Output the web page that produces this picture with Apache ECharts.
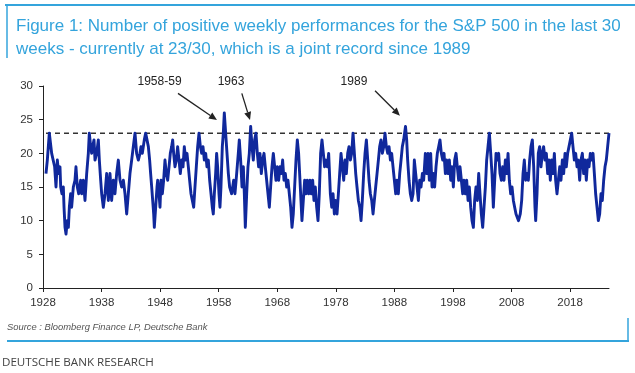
<!DOCTYPE html>
<html>
<head>
<meta charset="utf-8">
<script src="https://cdn.jsdelivr.net/npm/echarts@6/dist/echarts.min.js"></script>
<style>
  html, body { margin: 0; padding: 0; background: #fff; }
  #chart { width: 635px; height: 373px; }
</style>
</head>
<body>
<div id="chart"></div>
<script>
// ---------- DATA: [year, number of positive weeks in last 30] ----------
var weekly1928to1944 = [
  [1928.51,17],[1928.74,19],[1929.08,23],[1929.31,23],[1929.48,20],[1929.76,20],[1929.99,18],[1930.22,15],
  [1930.45,19],[1930.67,17],[1930.90,18],[1931.02,15],[1931.24,14],[1931.47,15],[1931.59,12],[1931.76,9],
  [1931.93,8],[1932.15,10],[1932.33,9],[1932.50,12],[1932.72,14],[1932.89,12],[1933.18,15],[1933.46,16],
  [1933.63,18],[1933.86,15],[1934.09,14],[1934.32,14],[1934.43,16],[1934.60,14],[1934.89,16],[1935.17,13],
  [1935.46,17],[1935.74,20],[1935.91,23],[1936.14,21],[1936.31,20],[1936.48,21],[1936.71,22],[1936.88,19],
  [1937.16,20],[1937.45,22],[1937.62,19],[1937.85,16],[1938.02,14],[1938.30,12],[1938.59,14],[1938.87,17],
  [1939.16,13],[1939.44,17],[1939.72,13],[1940.01,16],[1940.29,14],[1940.58,17],[1940.86,19],[1941.15,16],
  [1941.43,15],[1941.72,16],[1942.00,14],[1942.29,11],[1942.57,14],[1942.85,17],[1943.14,19],[1943.42,21],
  [1943.71,23],[1943.99,20],[1944.28,19],[1944.56,20]
];
var weekly1944to1960 = [
  [1944.73,21],[1944.96,20],[1945.30,22],[1945.53,23],[1945.76,22],[1945.99,21],[1946.21,19],[1946.38,17],
  [1946.56,15],[1946.73,13],[1946.90,11],[1947.01,9],[1947.24,12],[1947.47,15],[1947.58,16],[1947.81,14],
  [1947.98,12],[1948.15,16],[1948.38,14],[1948.60,16],[1948.83,19],[1949.06,17],[1949.29,16],[1949.52,18],
  [1949.74,20],[1949.97,21],[1950.14,22],[1950.31,20],[1950.54,18],[1950.77,19],[1950.99,21],[1951.22,19],
  [1951.45,17],[1951.68,19],[1951.91,18],[1952.13,21],[1952.36,19],[1952.59,20],[1952.82,18],[1953.04,16],
  [1953.27,14],[1953.50,13],[1953.73,12],[1953.95,15],[1954.18,18],[1954.41,21],[1954.64,23],[1954.87,21],
  [1955.09,20],[1955.32,21],[1955.55,19],[1955.78,20],[1956.00,18],[1956.23,19],[1956.46,16],[1956.69,14],
  [1956.91,12],[1957.08,11],[1957.26,14],[1957.48,17],[1957.65,20],[1957.82,18],[1958.05,14],[1958.22,12],
  [1958.39,15],[1958.62,21],[1958.79,23],[1958.96,26],[1959.19,23],[1959.42,20],[1959.65,17],[1959.87,15],
  [1960.21,14],[1960.56,16]
];
var weekly1960to1976 = [
  [1960.78,14],[1961.07,17],[1961.35,20],[1961.52,22],[1961.75,19],[1961.98,15],[1962.21,18],[1962.38,14],
  [1962.55,9],[1962.78,14],[1963.00,18],[1963.23,20],[1963.46,24],[1963.69,21],[1963.91,19],[1964.14,22],
  [1964.37,23],[1964.60,20],[1964.82,18],[1965.05,20],[1965.28,17],[1965.51,19],[1965.74,20],[1965.96,18],
  [1966.19,16],[1966.42,14],[1966.65,12],[1966.87,15],[1967.10,18],[1967.33,20],[1967.56,18],[1967.78,16],
  [1968.01,18],[1968.24,16],[1968.47,18],[1968.70,17],[1968.92,19],[1969.15,16],[1969.38,17],[1969.61,15],
  [1969.83,16],[1970.06,14],[1970.29,12],[1970.52,9],[1970.74,11],[1970.97,15],[1971.20,19],[1971.43,22],
  [1971.65,20],[1971.88,16],[1972.05,13],[1972.22,10],[1972.45,13],[1972.68,16],[1972.91,14],[1973.13,16],
  [1973.36,14],[1973.59,16],[1973.82,14],[1974.05,16],[1974.27,13],[1974.50,15],[1974.73,12],[1974.96,10],
  [1975.18,14],[1975.41,20],[1975.64,22],[1975.87,20],[1976.09,18],[1976.32,19],[1976.55,18],[1976.78,20]
];
var weekly1977to1993 = [
  [1977.07,14],[1977.30,12],[1977.53,14],[1977.75,11],[1977.98,13],[1978.21,11],[1978.44,14],[1978.66,17],
  [1978.89,20],[1979.12,18],[1979.35,16],[1979.57,19],[1979.80,17],[1980.03,20],[1980.26,21],[1980.49,19],
  [1980.71,20],[1980.94,23],[1981.17,20],[1981.40,17],[1981.62,15],[1981.85,13],[1982.08,12],[1982.31,10],
  [1982.53,13],[1982.76,17],[1982.99,20],[1983.22,22],[1983.45,19],[1983.67,16],[1983.90,14],[1984.13,13],
  [1984.36,11],[1984.58,13],[1984.81,15],[1985.04,17],[1985.27,19],[1985.49,21],[1985.72,22],[1985.95,20],
  [1986.18,21],[1986.40,23],[1986.63,21],[1986.86,20],[1987.09,21],[1987.32,19],[1987.54,20],[1987.77,18],
  [1988.00,16],[1988.23,14],[1988.45,16],[1988.68,14],[1988.91,17],[1989.14,19],[1989.36,21],[1989.59,22],
  [1989.90,24],[1990.10,22],[1990.27,19],[1990.50,16],[1990.73,14],[1990.96,13],[1991.19,14],[1991.41,19],
  [1991.64,17],[1991.87,15],[1992.10,13],[1992.32,16],[1992.55,15],[1992.78,17],[1993.00,16]
];
var weekly1993to2009 = [
  [1993.29,20],[1993.52,17],[1993.75,20],[1993.97,16],[1994.20,20],[1994.43,15],[1994.66,17],[1994.88,15],
  [1995.11,18],[1995.34,20],[1995.57,21],[1995.79,22],[1996.02,20],[1996.25,19],[1996.48,20],[1996.71,17],
  [1996.93,19],[1997.16,17],[1997.39,19],[1997.62,16],[1997.84,18],[1998.07,15],[1998.30,19],[1998.53,20],
  [1998.75,18],[1998.98,16],[1999.21,18],[1999.44,16],[1999.67,14],[1999.89,16],[2000.12,14],[2000.35,16],
  [2000.58,13],[2000.80,15],[2001.03,12],[2001.26,10],[2001.49,9],[2001.71,13],[2001.94,15],[2002.17,13],
  [2002.40,17],[2002.62,14],[2002.85,11],[2003.08,9],[2003.31,12],[2003.54,15],[2003.76,19],[2003.99,21],
  [2004.22,23],[2004.45,20],[2004.67,17],[2004.90,12],[2005.13,16],[2005.36,20],[2005.58,19],[2005.81,20],
  [2006.04,17],[2006.27,16],[2006.49,18],[2006.72,16],[2006.95,19],[2007.18,17],[2007.41,20],[2007.63,16],
  [2007.86,14],[2008.09,15],[2008.32,13],[2008.54,12],[2008.77,11],[2009.20,10],[2009.50,11]
];
var weekly2009to2021 = [
  [2009.74,13],[2009.97,17],[2010.19,19],[2010.42,16],[2010.65,17],[2010.88,16],[2011.10,19],[2011.33,21],
  [2011.56,22],[2011.79,18],[2012.01,12],[2012.13,10],[2012.36,14],[2012.58,20],[2012.81,21],[2013.04,18],
  [2013.27,20],[2013.49,21],[2013.72,19],[2013.95,20],[2014.18,17],[2014.41,19],[2014.63,16],[2014.86,19],
  [2015.09,17],[2015.32,20],[2015.54,16],[2015.77,14],[2016.00,16],[2016.23,18],[2016.45,16],[2016.68,19],
  [2016.91,17],[2017.14,20],[2017.36,18],[2017.59,20],[2017.82,21],[2018.05,22],[2018.28,23],[2018.50,21],
  [2018.73,19],[2018.96,20],[2019.19,18],[2019.41,19],[2019.64,16],[2019.87,19],[2020.10,20],[2020.32,17],
  [2020.55,19],[2020.78,16],[2021.01,19],[2021.24,18],[2021.46,20],[2021.69,19],[2021.92,20],[2022.15,17],
  [2022.37,14],[2022.60,12],[2022.83,10],[2023.06,11],[2023.28,14],[2023.51,13],[2023.74,16],[2023.97,18],
  [2024.19,19],[2024.42,21],[2024.65,23]
];
var recordLevel = 23;

// axis ticks
var xTickStart = 1928;
var xTickStep = 10;
var xAxisEnd = 2024.65;
var yTickStep = 5;
var yMax = 30;

// annotations: label, text anchor, arrow start, arrow end (data units)
var annotationLabels = ['1958-59', '1963', '1989'];
var annotationTextAt = [[1947.9, 30.6], [1960.1, 30.6], [1981.1, 30.6]];
var arrowFrom = [[1951.05, 28.9], [1961.95, 28.9], [1984.7, 29.3]];
var arrowTo = [[1957.7, 24.95], [1963.35, 24.95], [1988.95, 25.6]];

var titleText = 'Figure 1: Number of positive weekly performances for the S&P 500 in the last 30\nweeks - currently at 23/30, which is a joint record since 1989';
var sourceText = 'Source : Bloomberg Finance LP, Deutsche Bank';
var footerText = 'DEUTSCHE BANK RESEARCH';

// ---------- CHART ----------
var series = [].concat(weekly1928to1944, weekly1944to1960, weekly1960to1976,
                       weekly1977to1993, weekly1993to2009, weekly2009to2021);
var firstYear = series[0][0];
var lastYear = series[series.length - 1][0];

var chart = echarts.init(document.getElementById('chart'), null, { renderer: 'canvas' });
var blue = '#34a4dc';
var axisColor = '#222';

var option = {
  animation: false,
  backgroundColor: '#fff',
  title: {
    text: titleText,
    left: 11, top: 10,
    textStyle: {
      fontFamily: 'Liberation Sans', fontSize: 17, fontWeight: 'normal',
      color: blue, lineHeight: 23
    }
  },
  grid: { left: 43, right: 26, top: 86, bottom: 85, containLabel: false },
  xAxis: {
    type: 'value', min: xTickStart, max: xAxisEnd, interval: xTickStep,
    axisLine: { show: true, lineStyle: { color: axisColor, width: 1 } },
    axisTick: { show: true, inside: false, length: 4, lineStyle: { color: axisColor } },
    axisLabel: {
      show: true, margin: 9, color: '#333', fontSize: 11.5, fontFamily: 'Liberation Sans',
      showMaxLabel: false, formatter: function (v) { return String(Math.round(v)); }
    },
    splitLine: { show: false }
  },
  yAxis: {
    type: 'value', min: 0, max: yMax, interval: yTickStep,
    axisLine: { show: true, lineStyle: { color: axisColor, width: 1 } },
    axisTick: { show: true, inside: false, length: 4, lineStyle: { color: axisColor } },
    axisLabel: { margin: 10, color: '#333', fontSize: 11.5, fontFamily: 'Liberation Sans' },
    splitLine: { show: false }
  },
  series: [
    {
      type: 'line', data: [[firstYear, recordLevel], [lastYear, recordLevel]],
      symbol: 'none', silent: true, z: 1,
      lineStyle: { color: '#333', width: 1.5, type: [5, 4] }
    },
    {
      type: 'line', data: series, symbol: 'none', z: 2,
      lineStyle: { color: '#10289c', width: 2.9, join: 'round' }
    }
  ],
  graphic: []
};
chart.setOption(option);

// frame + texts + annotations
var g = [
  { type: 'line', shape: { x1: 5, y1: 5, x2: 635, y2: 5 }, style: { stroke: blue, lineWidth: 2 } },
  { type: 'line', shape: { x1: 7, y1: 5, x2: 7, y2: 58 }, style: { stroke: blue, lineWidth: 1.5 } },
  { type: 'line', shape: { x1: 7, y1: 341, x2: 629, y2: 341 }, style: { stroke: blue, lineWidth: 2 } },
  { type: 'line', shape: { x1: 628, y1: 318, x2: 628, y2: 342 }, style: { stroke: blue, lineWidth: 1.5 } },
  { type: 'text', x: 7, y: 327, style: { text: sourceText, fill: '#555', font: 'italic 9.4px "Liberation Sans"', textVerticalAlign: 'middle' } },
  { type: 'text', x: 2, y: 363, style: { text: footerText, fill: '#444', font: '11.6px "Open Sans"', textVerticalAlign: 'middle' } }
];
for (var i = 0; i < annotationLabels.length; i++) {
  var t = chart.convertToPixel({ gridIndex: 0 }, annotationTextAt[i]);
  var a = chart.convertToPixel({ gridIndex: 0 }, arrowFrom[i]);
  var b = chart.convertToPixel({ gridIndex: 0 }, arrowTo[i]);
  g.push({ type: 'text', x: t[0], y: t[1], z: 10,
    style: { text: annotationLabels[i], fill: '#222', font: '12px "Liberation Sans"', textAlign: 'center', textVerticalAlign: 'middle' } });
  var dx = b[0] - a[0], dy = b[1] - a[1], len = Math.sqrt(dx * dx + dy * dy);
  var ux = dx / len, uy = dy / len, hl = 8, hw = 3.5;
  var bx = b[0] - ux * hl, by = b[1] - uy * hl;
  g.push({ type: 'line', z: 10, shape: { x1: a[0], y1: a[1], x2: bx, y2: by }, style: { stroke: '#222', lineWidth: 1.3 } });
  g.push({ type: 'polygon', z: 10, shape: { points: [[b[0], b[1]], [bx - uy * hw, by + ux * hw], [bx + uy * hw, by - ux * hw]] }, style: { fill: '#222' } });
}
chart.setOption({ graphic: g });
</script>
</body>
</html>
